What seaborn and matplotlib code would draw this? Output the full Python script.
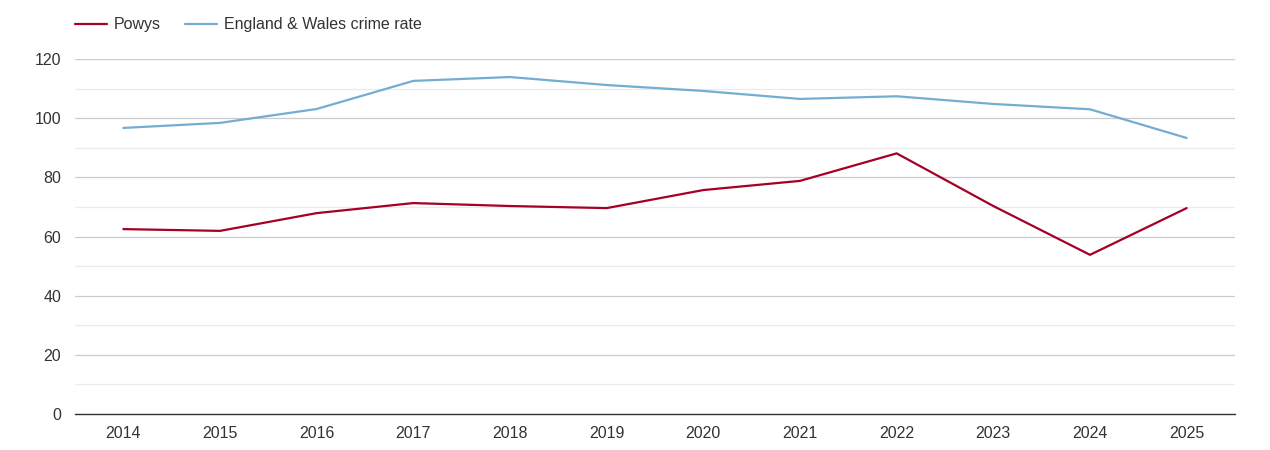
import pandas as pd
import matplotlib.pyplot as plt
import seaborn as sns
from matplotlib.ticker import MultipleLocator

years = [2014, 2015, 2016, 2017, 2018, 2019, 2020, 2021, 2022, 2023, 2024, 2025]
powys = [62.5, 61.9, 67.9, 71.3, 70.3, 69.6, 75.7, 78.8, 88.1, 70.3, 53.8, 69.6]
england_wales = [96.7, 98.4, 103.1, 112.6, 113.9, 111.2, 109.2, 106.5, 107.4, 104.8, 103.0, 93.3]

df = pd.DataFrame({
    "year": years * 2,
    "rate": powys + england_wales,
    "series": ["Powys"] * len(years) + ["England & Wales crime rate"] * len(years),
})

sns.set_style("white")
plt.rcParams["font.family"] = ["Liberation Sans", "DejaVu Sans"]

fig = plt.figure(figsize=(12.7, 4.5), dpi=100)
ax = fig.add_axes([75 / 1270, 36 / 450, 1160 / 1270, 355 / 450])

palette = {"Powys": "#a50026", "England & Wales crime rate": "#74add1"}
sns.lineplot(data=df, x="year", y="rate", hue="series", palette=palette,
             linewidth=1.6, ax=ax, legend=True)

ax.set_xlim(2013.5, 2025.5)
ax.set_ylim(0, 120)
ax.set_xticks(years)
ax.yaxis.set_major_locator(MultipleLocator(20))
ax.yaxis.set_minor_locator(MultipleLocator(10))
ax.grid(which="major", axis="y", color="#cccccc", linewidth=0.9)
ax.grid(which="minor", axis="y", color="#ebebeb", linewidth=0.9)
ax.set_axisbelow(True)
for s in ["top", "right", "left"]:
    ax.spines[s].set_visible(False)
ax.spines["bottom"].set_color("#333333")
ax.spines["bottom"].set_linewidth(1.0)
ax.tick_params(axis="both", which="both", length=0, labelsize=11.5, colors="#333333")
ax.tick_params(axis="x", pad=9)
ax.tick_params(axis="y", pad=10)
ax.set_xlabel("")
ax.set_ylabel("")

handles, labels = ax.get_legend_handles_labels()
ax.legend(handles, labels, loc="center left", bbox_to_anchor=(0.0, 1.096), ncol=2,
          frameon=False, fontsize=11.5, handlelength=2.0, handletextpad=0.45,
          columnspacing=1.5, borderaxespad=0, borderpad=0,
          labelcolor="#333333")

fig.savefig("out.png", dpi=100)
